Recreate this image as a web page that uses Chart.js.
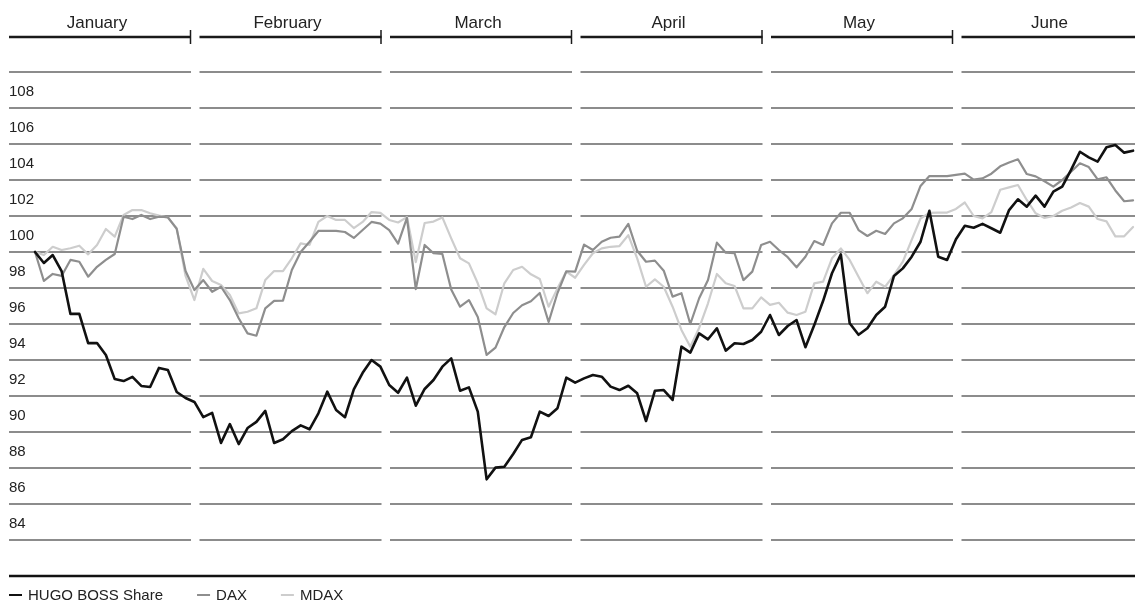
<!DOCTYPE html>
<html>
<head>
<meta charset="utf-8">
<script src="https://cdn.jsdelivr.net/npm/chart.js@4.4.1/dist/chart.umd.min.js"></script>
<style>
  html, body { margin: 0; padding: 0; background: #fff; }
  #wrap { width: 1135px; height: 602px; position: relative; }
</style>
</head>
<body>
<div id="wrap"><canvas id="chart"></canvas></div>
<script>
// Month headings across the top
const months = ['January', 'February', 'March', 'April', 'May', 'June'];

// Value axis: labelled ticks (index points)
const yTickLabels = [84, 86, 88, 90, 92, 94, 96, 98, 100, 102, 104, 106, 108];

// Series names
const seriesNames = ['HUGO BOSS Share', 'DAX', 'MDAX'];

// Daily index values, start of year = 100
const hugoBoss = [
  100.00, 99.39, 99.83, 98.94, 96.56, 96.56, 94.94, 94.94, 94.28, 92.94,
  92.83, 93.06, 92.56, 92.50, 93.56, 93.44, 92.22, 91.89, 91.67, 90.83,
  91.06, 89.39, 90.44, 89.33, 90.22, 90.56, 91.17, 89.39, 89.60, 90.05,
  90.37, 90.15, 91.04, 92.24, 91.22, 90.82, 92.37, 93.29, 94.00, 93.63,
  92.61, 92.18, 93.02, 91.46, 92.39, 92.89, 93.63, 94.09, 92.29, 92.48,
  91.13, 87.37, 88.02, 88.07, 88.78, 89.56, 89.71, 91.13, 90.89, 91.32,
  93.02, 92.74, 92.98, 93.17, 93.07, 92.52, 92.33, 92.57, 92.15, 90.61,
  92.29, 92.33, 91.78, 94.74, 94.41, 95.48, 95.15, 95.76, 94.52, 94.93,
  94.89, 95.11, 95.57, 96.50, 95.39, 95.89, 96.22, 94.71, 95.94, 97.29,
  98.82, 99.87, 96.04, 95.40, 95.76, 96.50, 96.96, 98.67, 99.09, 99.74,
  100.57, 102.29, 99.74, 99.56, 100.71, 101.46, 101.35, 101.56, 101.32, 101.07,
  102.33, 102.93, 102.52, 103.13, 102.52, 103.35, 103.63, 104.56, 105.57, 105.26,
  105.02, 105.82, 105.94, 105.52, 105.63
];

const dax = [
  100.00, 98.39, 98.78, 98.67, 99.56, 99.46, 98.63, 99.18, 99.56, 99.89,
  101.96, 101.83, 102.06, 101.83, 101.96, 101.93, 101.28, 98.94, 97.89, 98.44,
  97.79, 98.07, 97.33, 96.32, 95.48, 95.35, 96.87, 97.28, 97.30, 99.00,
  100.00, 100.57, 101.17, 101.17, 101.17, 101.11, 100.78, 101.22, 101.67, 101.58,
  101.22, 100.47, 101.89, 97.94, 100.39, 99.93, 99.89, 97.92, 96.96, 97.33,
  96.39, 94.28, 94.69, 95.83, 96.61, 97.04, 97.26, 97.72, 96.11, 97.72,
  98.93, 98.91, 100.41, 100.11, 100.57, 100.79, 100.85, 101.56, 100.07, 99.46,
  99.52, 98.96, 97.52, 97.71, 96.00, 97.43, 98.44, 100.52, 99.96, 99.93,
  98.44, 98.91, 100.39, 100.57, 100.11, 99.71, 99.15, 99.74, 100.61, 100.39,
  101.59, 102.18, 102.18, 101.22, 100.89, 101.18, 101.00, 101.59, 101.87, 102.39,
  103.67, 104.22, 104.22, 104.22, 104.28, 104.35, 104.02, 104.09, 104.35, 104.76,
  104.97, 105.15, 104.33, 104.20, 103.93, 103.63, 104.00, 104.46, 104.93, 104.72,
  104.04, 104.15, 103.42, 102.82, 102.87
];

const mdax = [
  100.00, 99.83, 100.29, 100.11, 100.21, 100.35, 99.87, 100.39, 101.28, 100.85,
  102.06, 102.33, 102.33, 102.15, 102.02, 101.91, 101.32, 98.67, 97.33, 99.06,
  98.39, 98.17, 97.61, 96.59, 96.68, 96.87, 98.44, 98.94, 98.94, 99.65,
  100.48, 100.39, 101.67, 102.00, 101.78, 101.78, 101.33, 101.67, 102.22, 102.17,
  101.78, 101.64, 101.94, 99.44, 101.61, 101.69, 101.92, 100.76, 99.65, 99.37,
  98.26, 96.87, 96.54, 98.26, 99.00, 99.18, 98.76, 98.50, 96.96, 97.98,
  98.91, 98.57, 99.28, 99.93, 100.20, 100.29, 100.33, 100.94, 99.65, 98.07,
  98.48, 98.07, 96.96, 95.67, 94.74, 95.78, 97.15, 98.78, 98.26, 98.11,
  96.87, 96.87, 97.48, 97.06, 97.18, 96.63, 96.50, 96.68, 98.26, 98.35,
  99.65, 100.20, 99.56, 98.63, 97.71, 98.35, 98.07, 98.72, 99.46, 100.67,
  101.86, 102.17, 102.19, 102.19, 102.39, 102.75, 102.00, 101.87, 102.22, 103.46,
  103.59, 103.72, 102.89, 102.15, 101.89, 102.00, 102.29, 102.47, 102.72, 102.52,
  101.83, 101.70, 100.87, 100.87, 101.39
];

const FONT = "'Liberation Sans', Arial, Helvetica, sans-serif";
const TEXT = '#222222';
const GRID = '#8c8c8c';
const SEG_PERIOD = 190.5;   // horizontal spacing of the month blocks
const SEG_WIDTH = 182;      // drawn length of each month block

function monthBlocks(area) {
  return months.map((name, i) => {
    const x0 = area.left + i * SEG_PERIOD;
    const full = x0 + SEG_WIDTH;
    return { name, x0, x1: Math.min(full, area.right), full };
  });
}

const toPoints = arr => arr.map((v, i) => ({ x: i, y: v }));

// Broken grid lines, month headings, base rule and legend
const framePlugin = {
  id: 'frame',
  beforeDatasetsDraw(chart) {
    const { ctx, chartArea: a, scales: { y } } = chart;
    const blocks = monthBlocks(a);
    ctx.save();
    ctx.strokeStyle = GRID;
    ctx.lineWidth = 2;
    y.ticks.forEach(t => {
      if (t.value <= y.min) return;
      const py = Math.round(y.getPixelForValue(t.value));
      blocks.forEach(b => {
        ctx.beginPath();
        ctx.moveTo(b.x0, py);
        ctx.lineTo(b.x1, py);
        ctx.stroke();
      });
    });
    ctx.restore();
  },
  afterDraw(chart) {
    const { ctx, chartArea: a, scales: { y } } = chart;
    const blocks = monthBlocks(a);
    ctx.save();

    // base rule
    const by = Math.round(y.getPixelForValue(y.min));
    ctx.strokeStyle = '#111';
    ctx.lineWidth = 2.5;
    ctx.beginPath();
    ctx.moveTo(a.left, by);
    ctx.lineTo(a.right, by);
    ctx.stroke();

    // month headings
    const hy = a.top - 35;
    ctx.fillStyle = TEXT;
    ctx.font = '17px ' + FONT;
    ctx.textAlign = 'center';
    ctx.textBaseline = 'alphabetic';
    blocks.forEach(b => {
      ctx.strokeStyle = '#1a1a1a';
      ctx.lineWidth = 2.5;
      ctx.beginPath();
      ctx.moveTo(b.x0, hy);
      ctx.lineTo(b.x1, hy);
      ctx.stroke();
      if (b.full <= a.right) {
        ctx.lineWidth = 1.5;
        ctx.beginPath();
        ctx.moveTo(b.full - 0.5, hy - 7);
        ctx.lineTo(b.full - 0.5, hy + 7);
        ctx.stroke();
      }
      ctx.fillText(b.name, (b.x0 + b.full) / 2 - 3, hy - 9);
    });

    // legend
    ctx.font = '15px ' + FONT;
    ctx.textAlign = 'left';
    const ly = chart.height - 2;
    let lx = a.left;
    chart.data.datasets.forEach(ds => {
      ctx.strokeStyle = ds.borderColor;
      ctx.lineWidth = 2;
      ctx.beginPath();
      ctx.moveTo(lx, ly - 5);
      ctx.lineTo(lx + 13, ly - 5);
      ctx.stroke();
      lx += 19;
      ctx.fillStyle = TEXT;
      ctx.fillText(ds.label, lx, ly);
      lx += ctx.measureText(ds.label).width + 34;
    });
    ctx.restore();
  }
};

new Chart(document.getElementById('chart'), {
  type: 'line',
  data: {
    datasets: [
      { label: seriesNames[0], data: toPoints(hugoBoss), borderColor: '#111111', borderWidth: 2.6 },
      { label: seriesNames[1], data: toPoints(dax), borderColor: '#8e8e8e', borderWidth: 2.2 },
      { label: seriesNames[2], data: toPoints(mdax), borderColor: '#cdcdcd', borderWidth: 2.2 }
    ]
  },
  options: {
    responsive: true,
    maintainAspectRatio: false,
    animation: false,
    devicePixelRatio: 1,
    layout: { padding: { left: 9, right: 0, top: 72, bottom: 26 } },
    elements: {
      point: { radius: 0, hoverRadius: 0 },
      line: { tension: 0, fill: false, borderJoinStyle: 'round', borderCapStyle: 'round' }
    },
    plugins: { legend: { display: false }, tooltip: { enabled: false } },
    scales: {
      x: { type: 'linear', min: -2.94, max: 124.22, display: false },
      y: {
        min: 82, max: 110,
        grid: { display: false, drawTicks: false },
        border: { display: false },
        ticks: {
          stepSize: 2,
          mirror: true,
          padding: 0,
          labelOffset: -16,
          color: TEXT,
          font: { family: FONT, size: 15 },
          callback: v => yTickLabels.includes(v) ? String(v) : ''
        }
      }
    }
  },
  plugins: [framePlugin]
});
</script>
</body>
</html>
